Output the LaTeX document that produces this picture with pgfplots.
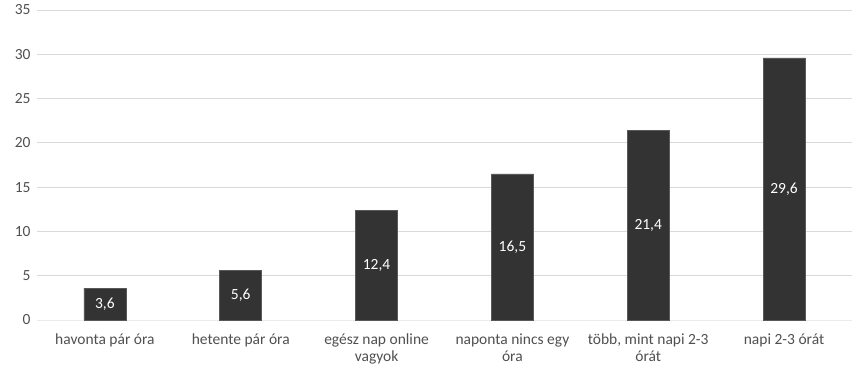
\documentclass[border=0pt]{standalone}
\usepackage{pgfplots}
\pgfplotsset{compat=1.18}
\usepackage{fontspec}
\setmainfont{Carlito}
\definecolor{bardark}{HTML}{333333}
\definecolor{gridgray}{HTML}{D9D9D9}
\definecolor{labelgray}{HTML}{505050}
\begin{document}
\begin{tikzpicture}
\useasboundingbox (0,0) rectangle (855pt,368pt);
\begin{axis}[
  at={(37pt,48pt)}, anchor=south west,
  scale only axis,
  width=815pt, height=310pt,
  ymin=0, ymax=35, ytick={0,5,...,35},
  xmin=-0.5, xmax=5.5,
  xtick=data,
  xticklabels={havonta pár óra, hetente pár óra, {egész nap online\\vagyok}, {naponta nincs egy\\óra}, {több, mint napi 2-3\\órát}, napi 2-3 órát},
  xticklabel style={align=center, font=\fontsize{15.5}{17.5}\selectfont, text=labelgray, yshift=-10pt},
  yticklabel style={font=\fontsize{15.5}{17.5}\selectfont, text=labelgray, xshift=-3pt},
  /pgf/number format/assume math mode=true,
  axis line style={draw=none},
  major tick length=0pt,
  ymajorgrids, grid style={gridgray, line width=1pt},
  extra y ticks={0}, extra y tick labels={},
  extra y tick style={grid style={draw=gridgray!120!gray, line width=1pt}},
  ybar, bar width=42pt,
  visualization depends on=rawy \as \rawy,
  nodes near coords={\pgfmathprintnumber[use comma, fixed, fixed zerofill, precision=1]{\pgfplotspointmeta}},
  every node near coord/.append style={anchor=center, text=white, font=\fontsize{15.5}{17.5}\selectfont, shift={(axis direction cs:0,-\rawy/2)}},
]
\addplot[fill=bardark, draw=black!65, line width=0.6pt] coordinates {
  (0,3.6) (1,5.6) (2,12.4) (3,16.5) (4,21.4) (5,29.6)
};
\end{axis}
\end{tikzpicture}
\end{document}
